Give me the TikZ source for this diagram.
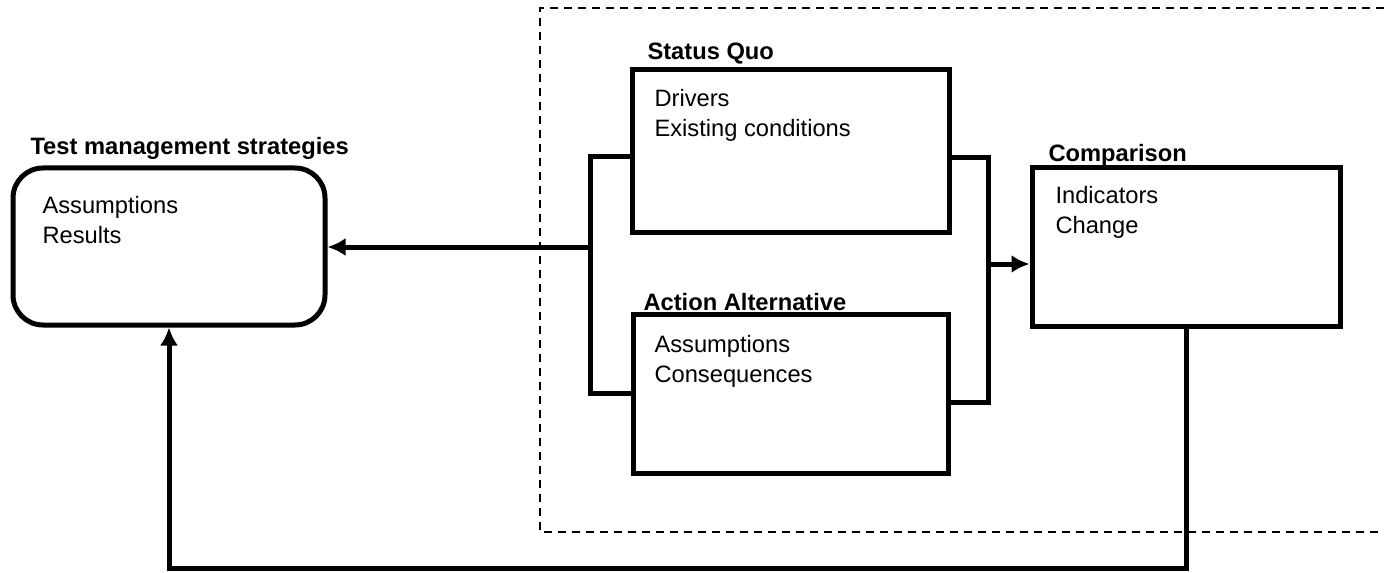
\documentclass[tikz,border=0pt]{standalone}
\usepackage{fontspec}
\setmainfont{Liberation Sans}
\usetikzlibrary{calc}
\usetikzlibrary{arrows.meta}
\tikzset{>={Latex[length=9pt,width=9pt]}}

\begin{document}
\begin{tikzpicture}[x=0.5pt,y=-0.5pt,line width=2.5pt,
	font=\fontsize{11.85pt}{15pt}\selectfont,
	box/.style={draw,rectangle,inner sep=0pt,outer sep=0pt},
	title/.style={anchor=base west,inner sep=0pt,font=\fontsize{11.85pt}{15pt}\selectfont\bfseries},
	body/.style={anchor=base west,inner sep=0pt,align=left}]
	\useasboundingbox (0,0) rectangle (1384,572);
	\draw[line width=0.75pt,dash pattern=on 4pt off 3pt] (1384,8)--(540,8)--(540,532)--(1384,532);
	% boxes
	\node[box,rounded corners=15pt,minimum width=156pt,minimum height=78.5pt] (strat) at (169,246.5) {};
	\node[box,minimum width=158.5pt,minimum height=81pt] (sq) at (790.5,151) {};
	\node[box,minimum width=157.5pt,minimum height=79.5pt] (alt) at (790.5,393.5) {};
	\node[box,minimum width=154pt,minimum height=79pt] (cmp) at (1186,247) {};
	% titles
	\node[title] (strattitle) at ([shift={(15,-13)}]strat.north west) {Test management strategies};
	\node[title] (sqtitle) at ([shift={(13,-10)}]sq.north west) {Status Quo};
	\node[title] (alttitle) at ([shift={(8,-4)}]alt.north west) {Action Alternative};
	\node[title] (cmptitle) at ([shift={(14,-6)}]cmp.north west) {Comparison};
	% texts
	\node[body] (strattext) at ([shift={(27,75)}]strat.north west) {Assumptions\\Results};
	\node[body] (sqtext) at ([shift={(20,67)}]sq.north west) {Drivers\\Existing conditions};
	\node[body] (alttext) at ([shift={(19,68)}]alt.north west) {Assumptions\\Consequences};
	\node[body] (cmptext) at ([shift={(21,66)}]cmp.north west) {Indicators\\Change};
	% connectors
	\coordinate (ltop) at (590,157);
	\coordinate (lbot) at (590,393);
	\coordinate (lj) at (590,247);
	\coordinate (rtop) at (988,158);
	\coordinate (rbot) at (988,402);
	\coordinate (rj) at (988,264);
	\coordinate (loop) at (1186,568);
	\draw (sq.west |- ltop) -- (ltop) -- (lbot) -- (alt.west |- lbot);
	\draw[->,shorten >=1.25pt] (lj) -- (strat.east |- lj);
	\draw (sq.east |- rtop) -- (rtop) -- (rbot) -- (alt.east |- rbot);
	\draw[->,shorten >=1.25pt] (rj) -- (cmp.west |- rj);
	\draw[->,shorten >=1.25pt] (cmp.south) -- (loop) -| (strat.south);
\end{tikzpicture}
\end{document}
